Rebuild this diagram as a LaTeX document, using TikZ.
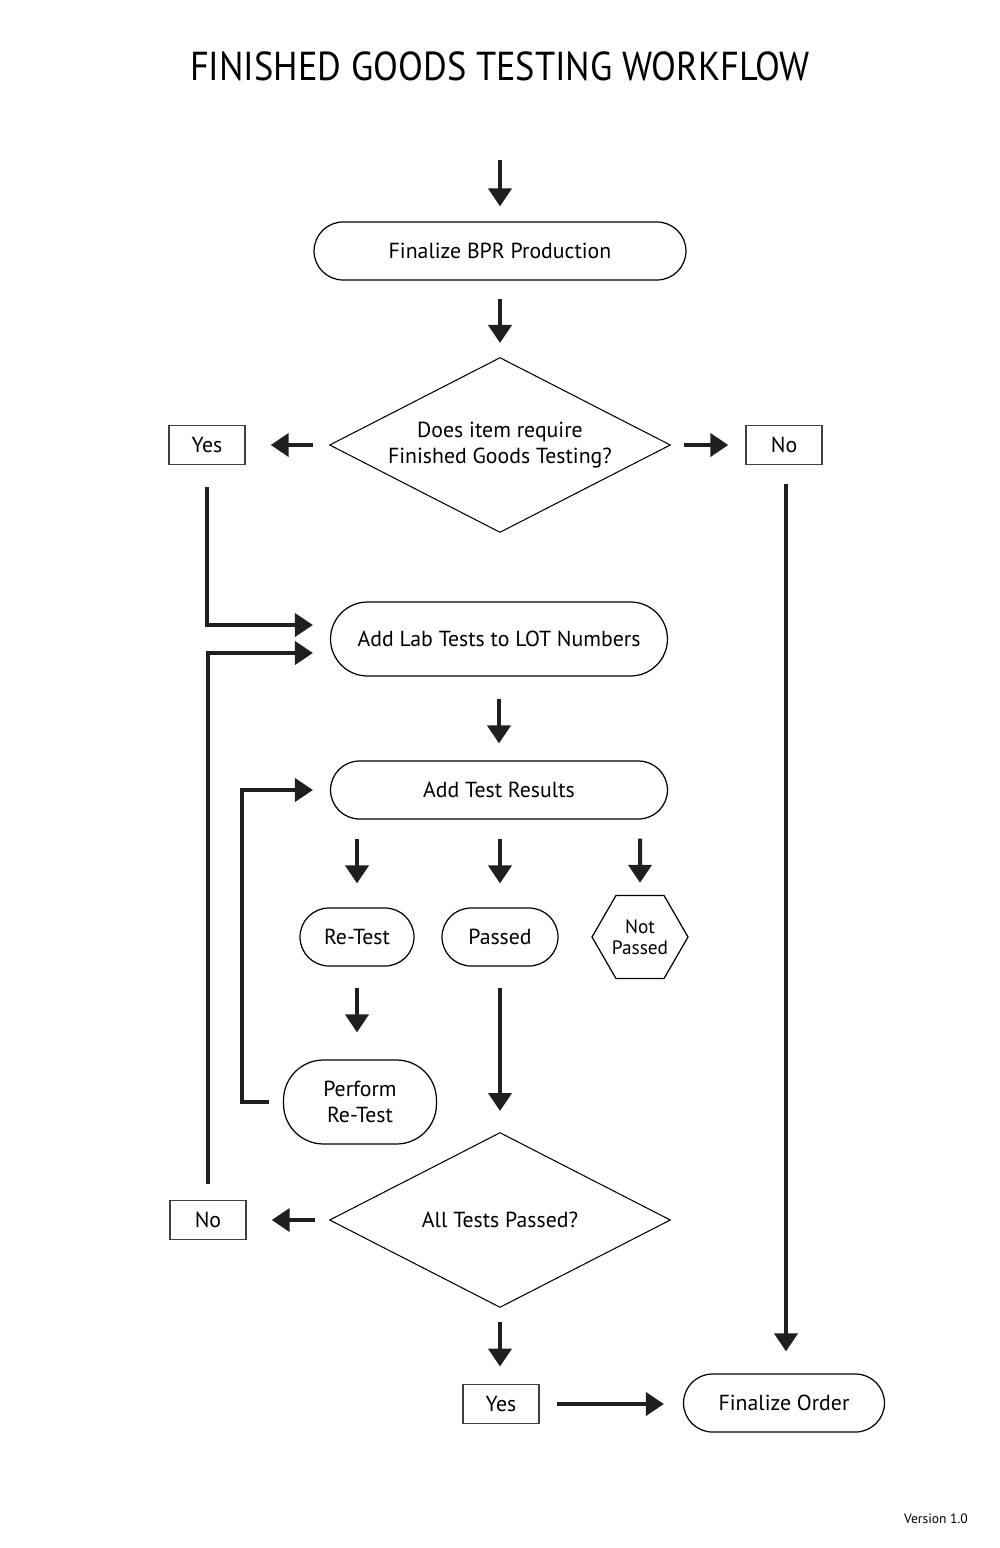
\documentclass[tikz,border=0pt]{standalone}
\usepackage{fontspec}
\setmainfont{PT Sans}
\usetikzlibrary{shapes.geometric,arrows.meta}
\tikzstyle{terminal} = [rectangle, rounded corners=0.58cm, minimum height=1.16cm, text centered, align=center, draw=black, line width=0.7pt, font=\fontsize{12.4}{15.2}\selectfont]
\tikzstyle{decision} = [diamond, aspect=2, inner sep=0pt, minimum width=6.82cm, minimum height=3.5cm, align=center, draw=black, line width=0.6pt, font=\fontsize{12.4}{15.2}\selectfont]
\tikzstyle{answer} = [rectangle, minimum width=1.52cm, minimum height=0.79cm, text centered, draw=black!75, line width=0.8pt, font=\fontsize{12.4}{15.2}\selectfont]
\tikzstyle{result} = [regular polygon, regular polygon sides=6, minimum size=1.92cm, inner sep=0pt, align=center, draw=black, line width=0.7pt, font=\fontsize{11}{12}\selectfont]
\tikzstyle{arrow} = [line width=0.08cm, -{Triangle[length=0.36cm,width=0.46cm]}, draw=black!88]

\begin{document}
\begin{tikzpicture}[x=0.02cm, y=-0.02cm]
\useasboundingbox (0,0) rectangle (1000,1548);

\node (title) at (500,66) {\fontsize{23}{28}\selectfont\scalebox{0.9}[1]{FINISHED GOODS TESTING WORKFLOW}};
\coordinate (start) at (500,160);
\node (bpr) [terminal, minimum width=7.44cm] at (500,251) {Finalize BPR Production};
\node (needtest) [decision] at (500,445) {Does item require\\Finished Goods Testing?};
\node (yes1) [answer] at (207,445) {Yes};
\node (no1) [answer] at (784,445) {No};
\node (labtests) [terminal, minimum width=6.74cm, minimum height=1.48cm, rounded corners=0.74cm] at (499,639) {Add Lab Tests to LOT Numbers};
\node (results) [terminal, minimum width=6.74cm] at (499,790) {Add Test Results};
\node (retest) [terminal, minimum width=2.28cm] at (357,937) {Re-Test};
\node (passed) [terminal, minimum width=2.32cm] at (500,937) {Passed};
\node (notpassed) [result] at (640,937) {Not\\Passed};
\node (perform) [terminal, minimum width=3.06cm, minimum height=1.68cm, rounded corners=0.8cm] at (360,1102) {Perform\\Re-Test};
\node (alltests) [decision] at (500,1220) {All Tests Passed?};
\node (no2) [answer] at (208,1220) {No};
\node (yes2) [answer] at (501,1404) {Yes};
\node (order) [terminal, minimum width=4.02cm] at (784,1403) {Finalize Order};
\node (version) at (936,1519) {\fontsize{7.7}{9}\selectfont Version 1.0};

\draw [arrow, shorten >=0.3cm] (start) -- (bpr);
\draw [arrow, shorten <=0.36cm, shorten >=0.28cm] (bpr) -- (needtest);
\draw [arrow, shorten <=0.32cm, shorten >=0.5cm] (needtest) -- (yes1);
\draw [arrow, shorten <=0.26cm, shorten >=0.34cm] (needtest) -- (no1);
\draw [arrow, shorten <=0.44cm, shorten >=0.34cm] (yes1) |- ([yshift=0.28cm]labtests.west);
\draw [arrow, shorten <=0.38cm, shorten >=0.44cm] (no1.south -| 786,0) -- (order.north -| 786,0);
\draw [arrow, shorten <=0.44cm, shorten >=0.34cm] (labtests) -- (results);
\draw [arrow, shorten <=0.38cm, shorten >=0.48cm] (results.south -| retest) -- (retest);
\draw [arrow, shorten <=0.38cm, shorten >=0.48cm] (results.south -| passed) -- (passed);
\draw [arrow, shorten <=0.38cm, shorten >=0.24cm] (results.south -| notpassed) -- (notpassed);
\draw [arrow, shorten <=0.42cm, shorten >=0.54cm] (retest) -- (retest.south |- perform.north);
\draw [arrow, shorten <=0.28cm, shorten >=0.34cm] (perform.west) -- ++(-41,0) |- (results.west);
\draw [arrow, shorten <=0.42cm, shorten >=0.42cm] (passed) -- (alltests);
\draw [arrow, shorten <=0.28cm, shorten >=0.5cm] (alltests) -- (no2);
\draw [arrow, shorten <=0.32cm, shorten >=0.34cm] (no2) |- ([yshift=-0.28cm]labtests.west);
\draw [arrow, shorten <=0.28cm, shorten >=0.34cm] (alltests) -- (yes2.north -| alltests);
\draw [arrow, shorten <=0.34cm, shorten >=0.38cm] (yes2) -- (order.west |- yes2);
\end{tikzpicture}
\end{document}
